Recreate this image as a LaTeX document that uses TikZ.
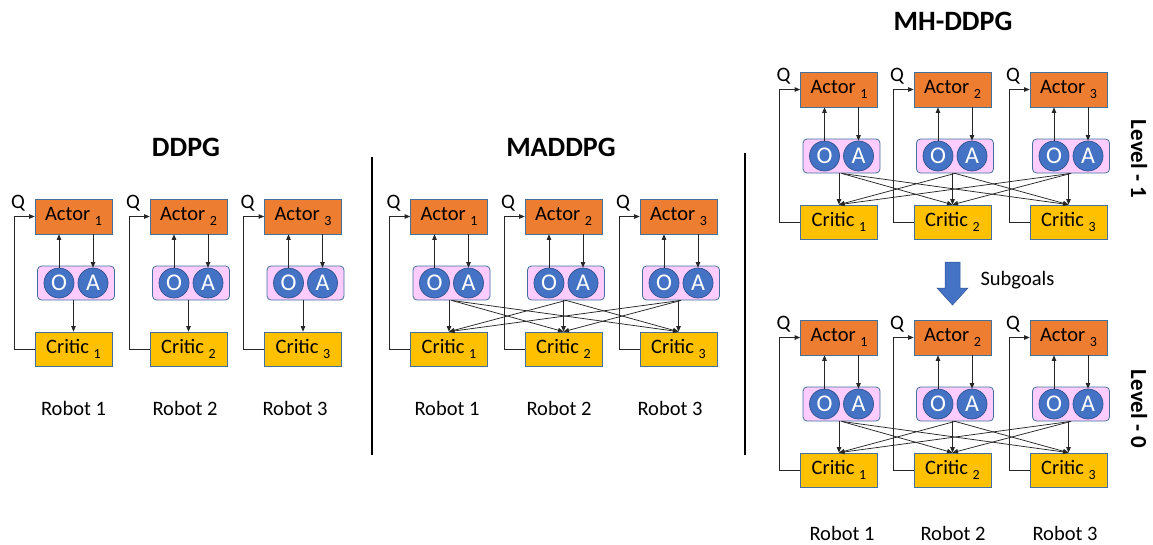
\documentclass[tikz,border=0pt]{standalone}
\usepackage{fontspec}
\setmainfont{Carlito}
\usetikzlibrary{arrows.meta,calc}
\definecolor{actorc}{HTML}{ED7D31}
\definecolor{criticc}{HTML}{FFC000}
\definecolor{pinkc}{HTML}{FFCCFF}
\definecolor{bluec}{HTML}{4472C4}
\definecolor{edgec}{HTML}{41719C}
\definecolor{darkb}{HTML}{2F528F}
\newcommand\sbi[1]{\raisebox{-5pt}{\fontsize{14}{14}\selectfont #1}}
\tikzset{
 base/.style={font=\fontsize{20.5}{22}\selectfont},
 actorbox/.style={draw=edgec, line width=0.7pt, fill=actorc, minimum width=77pt, minimum height=35pt, inner sep=0pt, base},
 criticbox/.style={actorbox, fill=criticc, minimum height=34pt},
 oabox/.style={draw=edgec, fill=pinkc, rounded corners=4pt, minimum width=77pt, minimum height=34pt, inner sep=0pt, line width=0.8pt},
 circ/.style={circle, draw=darkb, fill=bluec, minimum size=30pt, inner sep=0pt, text=white, font=\fontsize{24}{24}\selectfont, line width=0.7pt},
 arr/.style={draw=black!85, line width=0.75pt, -{Triangle[length=5.5pt,width=4.5pt]}},
 lab/.style={base},
 titlelab/.style={font=\fontsize{28}{30}\selectfont\bfseries},
 levellab/.style={font=\fontsize{23}{25}\selectfont\bfseries, rotate=-90},
}
\newcommand\rbt[4]{%
 \node[actorbox] (#1act) at (#2,#3+17.5) {Actor \sbi{#4}};
 \node[oabox] (#1oa) at (#2+2.5,#3+84) {};
 \node[circ] (#1O) at (#2-14.5,#3+84) {O};
 \node[circ] (#1A) at (#2+19.5,#3+84) {A};
 \node[criticbox] (#1cri) at (#2,#3+150) {Critic \sbi{#4}};
 \node[lab] (#1q) at (#2-55.5,#3+4) {Q};
 \draw[arr] (#1O.north) -- (#1O.north |- #1act.south);
 \draw[arr] (#1A.north |- #1act.south) -- (#1A.north);
 \draw[arr] (#1cri.west) -- ++(-20.5,0) |- (#1act.west);
 \draw[arr] (#1oa.south -| #1cri.north) -- (#1cri.north);
}
\newcommand\crossarrows[1]{%
 \foreach \i in {1,2,3}{\foreach \j in {1,2,3}{\ifnum\i=\j\else
   \draw[arr] (#1\i oa.south) -- (#1\j cri.north);\fi}}%
}
\begin{document}
\begin{tikzpicture}[x=1pt,y=-1pt]
\path[use as bounding box] (0,0) rectangle (1153,544);
% DDPG
\node[titlelab] (t1) at (186,147) {DDPG};
\rbt{d1}{73.5}{199}{1}
\rbt{d2}{188.5}{199}{2}
\rbt{d3}{303}{199}{3}
\node[lab] (dr1) at (73.5,408) {Robot 1};
\node[lab] (dr2) at (185,408) {Robot 2};
\node[lab] (dr3) at (295,408) {Robot 3};
% separators
\draw[line width=2.5pt] (372,157) -- (372,455);
\draw[line width=2.5pt] (745,153) -- (745,455);
% MADDPG
\node[titlelab] (t2) at (561,147) {MADDPG};
\rbt{m1}{449}{199}{1}
\rbt{m2}{563.5}{199}{2}
\rbt{m3}{678.5}{199}{3}
\crossarrows{m}
\node[lab] (mr1) at (447,408) {Robot 1};
\node[lab] (mr2) at (559,408) {Robot 2};
\node[lab] (mr3) at (670,408) {Robot 3};
% MH-DDPG
\node[titlelab] (t3) at (953,21) {MH-DDPG};
\rbt{h1}{839}{72}{1}
\rbt{h2}{952.5}{72}{2}
\rbt{h3}{1068.5}{72}{3}
\crossarrows{h}
\rbt{l1}{839}{320}{1}
\rbt{l2}{952.5}{320}{2}
\rbt{l3}{1068.5}{320}{3}
\crossarrows{l}
\node[levellab] (lv1) at (1139,159) {Level - 1};
\node[levellab] (lv0) at (1139,409) {Level - 0};
\fill[bluec, draw=darkb, line width=0.5pt] (945,262) -- (960,262) -- (960,288) -- (968,288) -- (952.5,305) -- (937,288) -- (945,288) -- cycle;
\node[lab, anchor=west] (sg) at (977,280) {Subgoals};
\node[lab] (hr1) at (842,533) {Robot 1};
\node[lab] (hr2) at (953,533) {Robot 2};
\node[lab] (hr3) at (1065,533) {Robot 3};
\end{tikzpicture}
\end{document}
